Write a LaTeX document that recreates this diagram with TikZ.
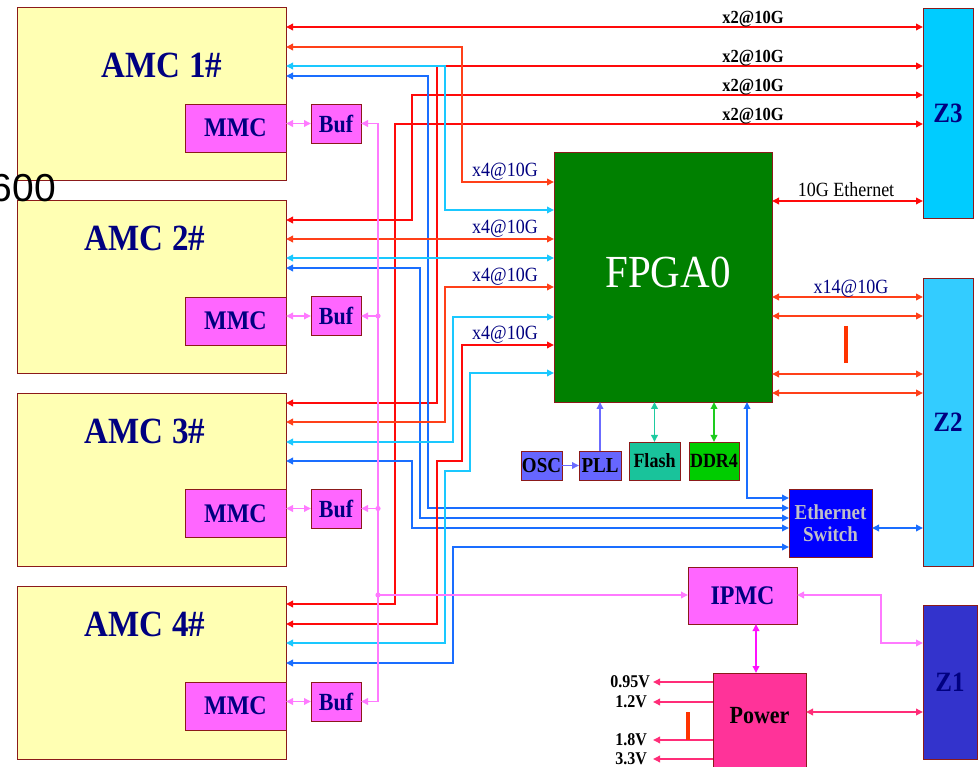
\documentclass[tikz,border=0pt]{standalone}
\usepackage{fontspec}
\usepackage{graphicx}
\setmainfont{Liberation Serif}
\newfontfamily\lsans{Liberation Sans}
\usetikzlibrary{arrows.meta}
\definecolor{cAmc}{HTML}{FFFFB3}
\definecolor{cMmc}{HTML}{FF66FF}
\definecolor{cFpga}{HTML}{008000}
\definecolor{cZiii}{HTML}{00CCFF}
\definecolor{cZii}{HTML}{33CCFF}
\definecolor{cZi}{HTML}{3333CC}
\definecolor{cPwr}{HTML}{FF3399}
\definecolor{cOsc}{HTML}{6666FF}
\definecolor{cFlash}{HTML}{19C39B}
\definecolor{cDdr}{HTML}{00CC00}
\definecolor{cSw}{HTML}{0000FF}
\definecolor{cSwT}{HTML}{C0C0C8}
\definecolor{cNavy}{HTML}{000080}
\definecolor{cBd}{HTML}{8B1A1A}
\definecolor{lRed}{HTML}{FF0A0A}
\definecolor{lOr}{HTML}{FF4019}
\definecolor{lCy}{HTML}{1AC8FF}
\definecolor{lBl}{HTML}{1A6EFF}
\definecolor{lPk}{HTML}{FF7AFF}
\definecolor{lMag}{HTML}{FF10FF}
\definecolor{lPw}{HTML}{FF2D78}
\definecolor{lOsc}{HTML}{6B6BFF}
\definecolor{lFl}{HTML}{1ECBA0}
\definecolor{lDdr}{HTML}{1ECB1E}
\definecolor{cBar}{HTML}{FF3300}
\newcommand\setfs[1]{\fontsize{#1}{#1}\selectfont}
\newcommand\vs[1]{\scalebox{1}[1.12]{#1}}
\begin{document}
\begin{tikzpicture}[x=1pt,y=-1pt,
  >={Triangle[length=7pt,width=6.5pt]},
  box/.style={draw=cBd, line width=0.8pt, inner sep=0pt, outer sep=0pt, align=center},
  amcbox/.style={box, fill=cAmc, minimum width=269pt, minimum height=173pt},
  amctext/.style={font=\bfseries\setfs{33}, text=cNavy},
  mmcbox/.style={box, fill=cMmc, minimum width=101pt, minimum height=48pt, font=\bfseries\setfs{24}, text=cNavy},
  bufbox/.style={box, fill=cMmc, minimum width=50pt, minimum height=39pt, font=\bfseries\setfs{22}, text=cNavy},
  zbox/.style={box, font=\bfseries\setfs{25}, text=cNavy},
  smallbox/.style={box, font=\bfseries\setfs{19}, text=black},
  lbltwo/.style={font=\bfseries\setfs{16.5}, anchor=base, inner sep=0pt},
  lblfour/.style={font=\setfs{18}, text=cNavy, anchor=base east, inner sep=0pt},
  volt/.style={font=\bfseries\setfs{16}, anchor=east, inner sep=1pt},
  ln/.style={line width=1.8pt},
  rl/.style={ln, draw=lRed, <->},
  ol/.style={ln, draw=lOr, <->},
  cl/.style={ln, draw=lCy, <->},
  bl/.style={ln, draw=lBl, <->},
  pk/.style={ln, draw=lPk},
  pw/.style={ln, draw=lPw},
  barline/.style={line width=4pt, draw=cBar}
]
\useasboundingbox (0,0) rectangle (978,767);

% AMC boxes
\node[amcbox] (amc1) at (151.5,94) {};
\node[amcbox] (amc2) at (151.5,287) {};
\node[amcbox] (amc3) at (151.5,480) {};
\node[amcbox] (amc4) at (151.5,672.5) {};
\node[amctext] (amc1t) at (162,65) {\vs{AMC 1\#}};
\node[amctext] (amc2t) at (145,238) {\vs{AMC 2\#}};
\node[amctext] (amc3t) at (145,431) {\vs{AMC 3\#}};
\node[amctext] (amc4t) at (145,624) {\vs{AMC 4\#}};
\node[mmcbox] (mmc1) at (235.5,128) {\vs{MMC}};
\node[mmcbox] (mmc2) at (235.5,321) {\vs{MMC}};
\node[mmcbox] (mmc3) at (235.5,513.5) {\vs{MMC}};
\node[mmcbox] (mmc4) at (235.5,706) {\vs{MMC}};
\node[bufbox] (buf1) at (336,123.5) {\vs{Buf}};
\node[bufbox] (buf2) at (336,316) {\vs{Buf}};
\node[bufbox] (buf3) at (336,508.5) {\vs{Buf}};
\node[bufbox] (buf4) at (336,701.5) {\vs{Buf}};

% stray text (drawn over AMC1)
\node[font=\lsans\setfs{39}, anchor=base east, inner sep=0pt] (stray) at (56,202) {600};

% main blocks
\node[box, fill=cFpga, minimum width=218pt, minimum height=250pt] (fpga) at (663,277) {};
\node[font=\setfs{41}, text=white] (fpgat) at (668,272) {\vs{FPGA0}};
\node[zbox, fill=cZiii, minimum width=50pt, minimum height=210pt] (z3) at (948,113) {\vs{Z3}};
\node[zbox, fill=cZii, minimum width=50pt, minimum height=288pt] (z2) at (948,422) {\vs{Z2}};
\node[zbox, fill=cZi, minimum width=54pt, minimum height=154pt] (z1) at (950,682) {\vs{Z1}};
\node[box, fill=cMmc, minimum width=109pt, minimum height=57pt, font=\bfseries\setfs{24}, text=cNavy] (ipmc) at (742.5,595.5) {\vs{IPMC}};
\node[box, fill=cPwr, minimum width=93pt, minimum height=102pt] (power) at (759.5,724) {};
\node[font=\bfseries\setfs{22}] (powert) at (759.5,716) {\vs{Power}};
\node[smallbox, fill=cOsc, minimum width=41pt, minimum height=29pt] (osc) at (541.5,465.5) {\vs{OSC}};
\node[smallbox, fill=cOsc, minimum width=42pt, minimum height=29pt] (pll) at (600,465.5) {\vs{PLL}};
\node[smallbox, fill=cFlash, minimum width=51pt, minimum height=38pt, font=\bfseries\setfs{18}] (flash) at (654.5,461) {\vs{Flash}};
\node[smallbox, fill=cDdr, minimum width=50pt, minimum height=38pt, font=\bfseries\setfs{18}] (ddr) at (714,461) {\vs{DDR4}};
\node[box, fill=cSw, minimum width=83pt, minimum height=68pt, font=\bfseries\setfs{19}, text=cSwT, align=center] (sw) at (830.5,523) {\vs{Ethernet}\\[3pt]\vs{Switch}};

% Z3 links (x2@10G)
\draw[rl] (amc1.east |- 0,27) -- (z3.west |- 0,27);
\draw[rl] (amc3.east |- 0,403) -- (437,403) -- (437,66) -- (z3.west |- 0,66);
\draw[rl] (amc2.east |- 0,220) -- (412,220) -- (412,95) -- (z3.west |- 0,95);
\draw[rl] (amc4.east |- 0,604) -- (395,604) -- (395,124) -- (z3.west |- 0,124);
\node[lbltwo] (lz1) at (753,24) {\vs{x2@10G}};
\node[lbltwo] (lz2) at (753,63) {\vs{x2@10G}};
\node[lbltwo] (lz3) at (753,92) {\vs{x2@10G}};
\node[lbltwo] (lz4) at (753,121) {\vs{x2@10G}};

% AMC1
\draw[ol] (amc1.east |- 0,47) -- (462,47) -- (462,182) -- (fpga.west |- 0,182);
\draw[cl] (amc1.east |- 0,66) -- (445,66) -- (445,210) -- (fpga.west |- 0,210);
\draw[bl] (amc1.east |- 0,76) -- (428,76) -- (428,508) -- (sw.west |- 0,508);
% AMC2
\draw[ol] (amc2.east |- 0,239) -- (fpga.west |- 0,239);
\draw[cl] (amc2.east |- 0,258) -- (fpga.west |- 0,258);
\draw[bl] (amc2.east |- 0,268) -- (420,268) -- (420,518) -- (sw.west |- 0,518);
% AMC3
\draw[ol] (amc3.east |- 0,422) -- (445,422) -- (445,287) -- (fpga.west |- 0,287);
\draw[cl] (amc3.east |- 0,442) -- (453,442) -- (453,317) -- (fpga.west |- 0,317);
\draw[bl] (amc3.east |- 0,461) -- (412,461) -- (412,528) -- (sw.west |- 0,528);
% AMC4
\draw[rl] (amc4.east |- 0,624) -- (437,624) -- (437,461) -- (462,461) -- (462,345) -- (fpga.west |- 0,345);
\draw[cl] (amc4.east |- 0,643) -- (445,643) -- (445,471) -- (470,471) -- (470,373) -- (fpga.west |- 0,373);
\draw[bl] (amc4.east |- 0,663) -- (453,663) -- (453,547) -- (sw.west |- 0,547);

\node[lblfour] (lf1) at (538,177) {\vs{x4@10G}};
\node[lblfour] (lf2) at (538,234) {\vs{x4@10G}};
\node[lblfour] (lf3) at (538,282) {\vs{x4@10G}};
\node[lblfour] (lf4) at (538,340) {\vs{x4@10G}};

% FPGA right side
\draw[rl] (fpga.east |- 0,201) -- (z3.west |- 0,201);
\node[font=\setfs{18}, anchor=base, inner sep=0pt] (leth) at (846,197) {\vs{10G Ethernet}};
\draw[ol] (fpga.east |- 0,297) -- (z2.west |- 0,297);
\draw[ol] (fpga.east |- 0,316) -- (z2.west |- 0,316);
\draw[ol] (fpga.east |- 0,374) -- (z2.west |- 0,374);
\draw[ol] (fpga.east |- 0,393) -- (z2.west |- 0,393);
\node[font=\setfs{18}, text=cNavy, anchor=base, inner sep=0pt] (lx14) at (851,294) {\vs{x14@10G}};
\coordinate (barA) at (846,326);
\coordinate (barB) at (846,363);
\draw[barline] (barA) -- (barB);

% FPGA bottom
\draw[ln, draw=lOsc, ->] (osc.east) -- (pll.west);
\draw[ln, draw=lOsc, ->] (pll.north) -- (fpga.south -| pll.north);
\draw[ln, draw=lFl, <->] (flash.north) -- (fpga.south -| flash.north);
\draw[ln, draw=lDdr, <->] (ddr.north) -- (fpga.south -| ddr.north);
\draw[bl] (fpga.south -| 747,0) -- (747,498) -- (sw.west |- 0,498);
\draw[bl] (sw.east |- 0,528) -- (z2.west |- 0,528);

% pink management bus
\draw[pk, <->] (mmc1.east |- buf1.west) -- (buf1.west);
\draw[pk, <->] (mmc2.east |- buf2.west) -- (buf2.west);
\draw[pk, <->] (mmc3.east |- buf3.west) -- (buf3.west);
\draw[pk, <->] (mmc4.east |- buf4.west) -- (buf4.west);
\coordinate (busTop) at (378,123.5);
\coordinate (busBot) at (378,701.5);
\coordinate (busB) at (378,316);
\coordinate (busC) at (378,508.5);
\coordinate (busI) at (378,595);
\draw[pk, <->] (buf1.east) -- (busTop) -- (busBot) -- (buf4.east);
\draw[pk, ->] (busB) -- (buf2.east);
\draw[pk, ->] (busC) -- (buf3.east);
\draw[pk, ->] (busI) -- (ipmc.west |- busI);
\fill[lPk] (busB) circle (2.6pt) (busC) circle (2.6pt) (busI) circle (2.6pt);
\draw[pk, <->] (ipmc.east |- 0,595) -- (881,595) -- (881,643) -- (z1.west |- 0,643);
\draw[ln, draw=lMag, <->] (ipmc.south -| 756,0) -- (power.north -| 756,0);
\draw[pw, <->] (power.east |- 0,712) -- (z1.west |- 0,712);

% power outputs
\node[volt] (v1) at (651,682) {\vs{0.95V}};
\node[volt] (v2) at (648,702) {\vs{1.2V}};
\node[volt] (v3) at (648,740) {\vs{1.8V}};
\node[volt] (v4) at (648,759) {\vs{3.3V}};
\draw[pw, ->] (power.west |- v1) -- (653,682);
\draw[pw, ->] (power.west |- v2) -- (653,702);
\draw[pw, ->] (power.west |- v3) -- (653,740);
\draw[pw, ->] (power.west |- v4) -- (653,759);
\coordinate (pbarA) at (688,712);
\coordinate (pbarB) at (688,740);
\draw[barline] (pbarA) -- (pbarB);
\end{tikzpicture}
\end{document}
